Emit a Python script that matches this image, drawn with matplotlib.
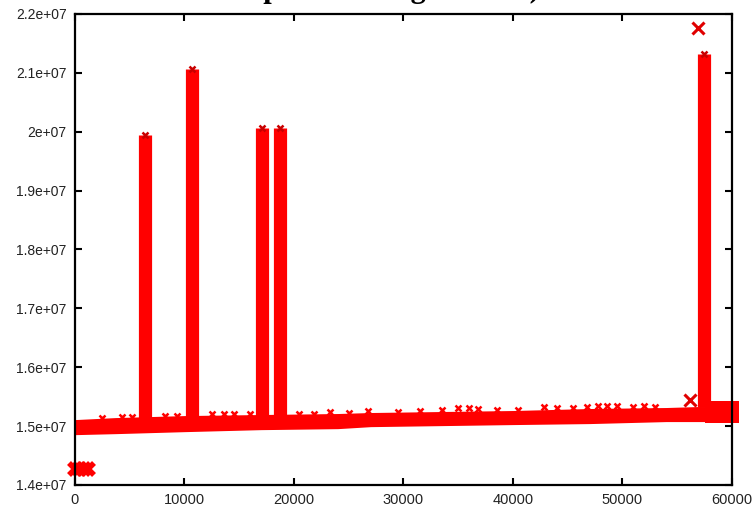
import matplotlib
matplotlib.use("Agg")
import matplotlib.pyplot as plt

# main band of points (visual lower / upper edge)
band_x = [0, 3700, 10000, 17000, 24000, 27000, 40000, 47000, 54000, 57000, 60000]
band_lo = [1.4855e7, 1.4872e7, 1.4906e7, 1.4940e7, 1.4957e7, 1.4991e7,
           1.5026e7, 1.5043e7, 1.5077e7, 1.5077e7, 1.5077e7]
band_hi = [1.5111e7, 1.5145e7, 1.5179e7, 1.5197e7, 1.5214e7, 1.5231e7,
           1.5265e7, 1.5299e7, 1.5316e7, 1.5333e7, 1.5333e7]

# thicker blob at the right end
blob_x = [57500, 60600]
blob_lo = [1.5060e7, 1.5060e7]
blob_hi = [1.5430e7, 1.5430e7]

# vertical columns (spikes)
spike_x = [6384, 10670, 17100, 18700, 57400]
spike_base = [1.512e7, 1.516e7, 1.518e7, 1.518e7, 1.533e7]
spike_top = [1.9949e7, 2.1060e7, 2.0068e7, 2.0068e7, 2.1316e7]

# points sticking out above the band
bump_x = [2500, 4300, 5200, 8200, 9300, 12500, 13600, 14500, 16000, 20500,
          21800, 23300, 25000, 26800, 29500, 31500, 33500, 35000, 36000,
          36800, 38500, 40500, 42800, 44000, 45500, 46800, 47800, 48600,
          49500, 51000, 52000, 53000]
bump_y = [1.513e7, 1.515e7, 1.516e7, 1.518e7, 1.518e7, 1.520e7, 1.520e7,
          1.520e7, 1.521e7, 1.521e7, 1.521e7, 1.524e7, 1.523e7, 1.525e7,
          1.524e7, 1.525e7, 1.527e7, 1.531e7, 1.530e7, 1.529e7, 1.528e7,
          1.528e7, 1.532e7, 1.530e7, 1.531e7, 1.533e7, 1.535e7, 1.534e7,
          1.534e7, 1.533e7, 1.534e7, 1.532e7]

# isolated points
single_x = [56200, 56860]
single_y = [1.5436e7, 2.176e7]

low_x = [0, 400, 800, 1200]
low_y = [1.4273e7, 1.4265e7, 1.4280e7, 1.4273e7]

yticks = [1.4e7, 1.5e7, 1.6e7, 1.7e7, 1.8e7, 1.9e7, 2.0e7, 2.1e7, 2.2e7]
ylabels = ["1.4e+07", "1.5e+07", "1.6e+07", "1.7e+07", "1.8e+07",
           "1.9e+07", "2e+07", "2.1e+07", "2.2e+07"]
xticks = [0, 10000, 20000, 30000, 40000, 50000, 60000]
xlabels = ["0", "10000", "20000", "30000", "40000", "50000", "60000"]

red = "#ff0000"

fig = plt.figure(figsize=(7.55, 5.07), dpi=100)
ax = fig.add_axes([0.0993, 0.0434, 0.8702, 0.929])

ax.fill_between(band_x, band_lo, band_hi, color=red, lw=0, zorder=2)
ax.fill_between(blob_x, blob_lo, blob_hi, color=red, lw=0, zorder=2, clip_on=False)
ax.vlines(spike_x, spike_base, spike_top, colors=red, lw=9.5, zorder=2)
ax.plot(spike_x, spike_top, "x", color="#c80000", ms=5, mew=1.8, zorder=3)
ax.plot(bump_x, bump_y, "x", color=red, ms=5, mew=1.8, zorder=3)
ax.plot(single_x, single_y, "x", color="#e00000", ms=8, mew=2.2, zorder=3)
ax.plot(low_x, low_y, "x", color=red, ms=9, mew=4, zorder=3, clip_on=False)

ax.set_xlim(0, 60000)
ax.set_ylim(1.4e7, 2.2e7)
ax.set_xticks(xticks)
ax.set_xticklabels(xlabels)
ax.set_yticks(yticks)
ax.set_yticklabels(ylabels)
ax.tick_params(direction="in", length=5, width=1.5, top=True, right=True,
               colors="black")
ax.tick_params(axis="x", pad=6, labelsize=10.5)
ax.tick_params(axis="y", pad=6, labelsize=10)
for lab in ax.get_xticklabels() + ax.get_yticklabels():
    lab.set_fontfamily("Liberation Sans")
    lab.set_color("#222222")
for s in ax.spines.values():
    s.set_linewidth(1.6)
    s.set_zorder(4)

# title, mostly cut off at the top of the image
fig.text(0.715, 1.006, "Total footprint during the run)", ha="right",
         va="baseline", fontsize=22, fontweight="bold",
         fontfamily="Liberation Serif")

fig.savefig("out.png", dpi=100)
